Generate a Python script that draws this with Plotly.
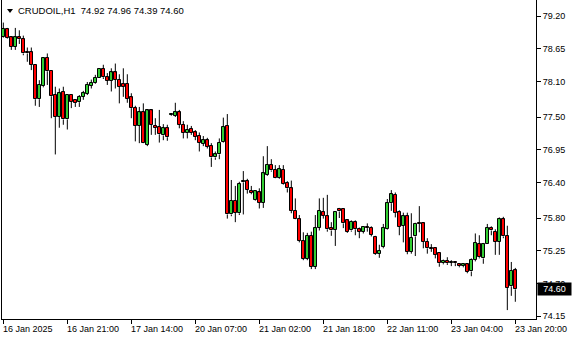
import plotly.graph_objects as go

symbol = "CRUDOIL,H1"

opens = [78.84, 78.98, 78.84, 78.68, 78.84, 78.81, 78.58, 78.59, 78.38, 77.80,
         78.02, 78.50, 78.27, 77.87, 77.50, 77.92, 77.46, 77.87, 77.79, 77.75,
         77.84, 77.89, 78.03, 78.08, 78.15, 78.31, 78.17, 78.11, 78.25, 78.13,
         78.06, 78.06, 77.83, 77.65, 77.35, 77.58, 77.03, 77.61, 77.35, 77.33,
         77.19, 77.31, 77.53, 77.52, 77.58, 77.37, 77.23, 77.30, 77.24, 77.18,
         77.05, 77.11, 77.01, 76.82, 76.87, 77.08, 77.35, 75.86, 76.09, 75.88,
         76.40, 76.42, 76.26, 76.10, 76.23, 76.06, 76.53, 76.69, 76.61, 76.48,
         76.61, 76.39, 76.30, 75.92, 75.78, 75.41, 75.11, 75.50, 74.98, 75.64,
         75.90, 75.83, 75.63, 75.60, 75.95, 75.95, 75.76, 75.59, 75.73, 75.61,
         75.57, 75.64, 75.63, 75.48, 75.20, 75.31, 75.61, 76.05, 76.19, 75.90,
         75.67, 75.83, 75.23, 75.49, 75.72, 75.71, 75.40, 75.29, 75.29, 75.21,
         75.04, 75.08, 75.05, 75.05, 75.02, 74.99, 75.02, 74.90, 75.10, 75.36,
         75.12, 75.36, 75.63, 75.57, 75.40, 75.78, 75.50, 74.65, 74.92]
highs = [79.09, 79.00, 78.85, 79.00, 78.96, 78.87, 78.67, 78.67, 78.38, 78.12,
         78.50, 78.57, 78.27, 78.01, 77.98, 78.01, 77.88, 77.88, 77.80, 77.87,
         77.94, 78.09, 78.13, 78.21, 78.32, 78.38, 78.24, 78.32, 78.40, 78.22,
         78.32, 78.22, 77.90, 77.69, 77.67, 77.73, 77.62, 77.63, 77.48, 77.62,
         77.38, 77.37, 77.54, 77.74, 77.62, 77.43, 77.37, 77.35, 77.28, 77.24,
         77.18, 77.15, 77.06, 76.92, 77.14, 77.49, 77.55, 76.44, 76.34, 76.41,
         76.59, 76.46, 76.34, 76.27, 76.30, 76.84, 77.01, 76.79, 76.69, 76.69,
         76.69, 76.42, 76.43, 76.13, 75.85, 75.56, 75.55, 75.57, 75.85, 76.13,
         76.14, 76.19, 75.73, 75.91, 75.97, 75.96, 75.78, 75.76, 75.76, 75.64,
         75.66, 75.71, 75.66, 75.50, 75.35, 75.70, 76.12, 76.27, 76.23, 75.93,
         75.89, 75.89, 75.88, 75.72, 76.00, 75.72, 75.46, 75.36, 75.31, 75.22,
         75.10, 75.14, 75.09, 75.07, 75.04, 75.04, 75.04, 75.12, 75.54, 75.51,
         75.38, 75.70, 75.66, 75.61, 75.81, 75.82, 75.67, 75.06, 74.96]
lows = [78.83, 78.82, 78.63, 78.63, 78.73, 78.54, 78.43, 78.29, 77.69, 77.67,
        78.00, 78.04, 77.48, 76.87, 77.32, 77.37, 77.29, 77.65, 77.67, 77.67,
        77.79, 77.87, 77.98, 78.06, 78.15, 78.14, 78.04, 77.93, 77.98, 77.73,
        77.84, 77.74, 77.48, 77.09, 77.06, 77.06, 77.01, 77.20, 77.20, 77.07,
        77.11, 77.10, 77.52, 77.50, 77.31, 77.14, 77.14, 77.20, 77.11, 76.92,
        77.01, 76.97, 76.66, 76.78, 76.79, 77.07, 75.79, 75.83, 75.73, 75.85,
        75.86, 76.21, 76.20, 76.09, 75.96, 75.97, 76.51, 76.58, 76.47, 76.46,
        76.36, 76.23, 75.88, 75.78, 75.39, 75.09, 75.09, 74.94, 74.94, 75.59,
        75.79, 75.57, 75.50, 75.33, 75.80, 75.63, 75.55, 75.57, 75.51, 75.46,
        75.54, 75.57, 75.49, 75.18, 75.13, 75.29, 75.60, 75.92, 75.81, 75.51,
        75.39, 75.19, 75.20, 75.16, 75.56, 75.29, 75.20, 75.23, 75.12, 74.98,
        75.02, 75.01, 74.99, 74.99, 74.97, 74.97, 74.87, 74.82, 75.07, 75.12,
        75.03, 75.36, 75.51, 75.18, 75.18, 75.46, 74.25, 74.49, 74.39]
closes = [78.99, 78.83, 78.68, 78.84, 78.81, 78.57, 78.57, 78.38, 77.80, 78.04,
          78.49, 78.27, 77.85, 77.50, 77.90, 77.46, 77.87, 77.76, 77.74, 77.84,
          77.90, 78.04, 78.08, 78.16, 78.31, 78.17, 78.11, 78.25, 78.13, 78.01,
          78.01, 77.81, 77.65, 77.35, 77.58, 77.07, 77.61, 77.37, 77.32, 77.21,
          77.31, 77.16, 77.53, 77.58, 77.37, 77.23, 77.29, 77.23, 77.17, 77.07,
          77.11, 77.00, 76.82, 76.87, 77.07, 77.33, 75.86, 76.09, 75.89, 76.37,
          76.42, 76.28, 76.22, 76.25, 76.06, 76.55, 76.70, 76.60, 76.48, 76.62,
          76.37, 76.30, 75.92, 75.79, 75.42, 75.11, 75.50, 74.98, 75.63, 75.92,
          75.84, 75.61, 75.59, 75.90, 75.91, 75.71, 75.57, 75.74, 75.61, 75.57,
          75.65, 75.63, 75.52, 75.20, 75.25, 75.63, 76.05, 76.20, 75.89, 75.65,
          75.83, 75.23, 75.47, 75.70, 75.70, 75.40, 75.29, 75.28, 75.18, 75.04,
          75.08, 75.04, 75.05, 75.04, 74.99, 75.02, 74.89, 75.10, 75.38, 75.14,
          75.36, 75.63, 75.59, 75.40, 75.78, 75.49, 74.63, 74.91, 74.60]

tick_idx = [0, 16, 32, 48, 64, 80, 96, 112, 128]
tick_labels = ["16 Jan 2025", "16 Jan 21:00", "17 Jan 14:00", "20 Jan 07:00",
               "21 Jan 02:00", "21 Jan 18:00", "22 Jan 11:00", "23 Jan 04:00",
               "23 Jan 20:00"]
price_ticks = [79.20, 78.65, 78.10, 77.50, 76.95, 76.40, 75.80, 75.25, 74.70, 74.15]

FONT = "Liberation Sans, Arial, sans-serif"
BULL, BEAR = "#32CD32", "#FF0000"
W, H = 580, 340
ML, MR, MT, MB = 2, 44, 0, 21
PW, PH = W - ML - MR, H - MT - MB
Y0, Y1 = 74.10, 79.47
MIN_BODY = (Y1 - Y0) / PH * 1.0  # doji bodies drawn at least ~1px tall

x = list(range(len(opens)))
body_lo = [min(o, c) for o, c in zip(opens, closes)]
body_hi = [max(o, c) for o, c in zip(opens, closes)]

# wicks: upper and lower segments (kept outside the body)
wx, wy = [], []
for i in x:
    wx += [i, i, None, i, i, None]
    wy += [highs[i], body_hi[i], None, body_lo[i], lows[i], None]

fig = go.Figure()
fig.add_trace(go.Scatter(x=wx, y=wy, mode="lines", line=dict(color="black", width=1),
                         hoverinfo="skip", showlegend=False, connectgaps=False))
fig.add_trace(go.Bar(
    x=x, base=body_lo,
    y=[max(h - l, MIN_BODY) for h, l in zip(body_hi, body_lo)],
    width=0.62,
    marker=dict(color=[BULL if c >= o else BEAR for o, c in zip(opens, closes)],
                line=dict(color="black", width=1)),
    hoverinfo="skip", showlegend=False,
))

annotations = []
header = f"{symbol}\u00a0\u00a0{opens[-1]:.2f} {highs[-1]:.2f} {lows[-1]:.2f} {closes[-1]:.2f}"
annotations.append(dict(xref="paper", yref="paper", x=(17 - ML) / PW, y=1 - 10.5 / PH,
                        xanchor="left", yanchor="middle", text=header, showarrow=False,
                        font=dict(family=FONT, size=9.5, color="#000000"), borderpad=0))
for i, lab in zip(tick_idx, tick_labels):
    annotations.append(dict(xref="x", yref="paper", x=i, y=-9.5 / PH, xanchor="left",
                            yanchor="middle", text=lab, showarrow=False, xshift=-1,
                            font=dict(family=FONT, size=9, color="black"), borderpad=0))
annotations.append(dict(xref="paper", yref="y", x=(537 - ML) / PW, y=closes[-1],
                        xanchor="left", yanchor="middle", text=f"{closes[-1]:.2f}",
                        showarrow=False, bgcolor="black", width=33, height=12,
                        font=dict(family=FONT, size=9, color="white"), borderpad=0))

fig.update_layout(
    width=W, height=H, margin=dict(l=ML, r=MR, t=MT, b=MB, pad=0),
    paper_bgcolor="white", plot_bgcolor="white",
    font=dict(family=FONT, size=9, color="black"),
    bargap=0,
    xaxis=dict(range=[-0.33, 133.17], showgrid=False, zeroline=False, showline=True,
               linecolor="black", linewidth=1, ticks="outside", ticklen=4,
               tickcolor="black", tickvals=tick_idx, showticklabels=False,
               fixedrange=True),
    yaxis=dict(side="right", range=[Y0, Y1], showgrid=False, zeroline=False,
               showline=True, mirror=True, linecolor="black", linewidth=1,
               ticks="outside", ticklen=4, tickcolor="black", tickvals=price_ticks,
               ticktext=[f"{v:.2f}" for v in price_ticks],
               tickfont=dict(family=FONT, size=9, color="black"), fixedrange=True),
    shapes=[dict(type="path", xref="paper", yref="paper", xsizemode="pixel",
                 ysizemode="pixel", xanchor=0, yanchor=1,
                 path="M5,-9 L11,-9 L8,-13 Z", fillcolor="black",
                 line=dict(color="black", width=0))],
    annotations=annotations,
)

fig.write_html("out.html", config={"displayModeBar": False})
